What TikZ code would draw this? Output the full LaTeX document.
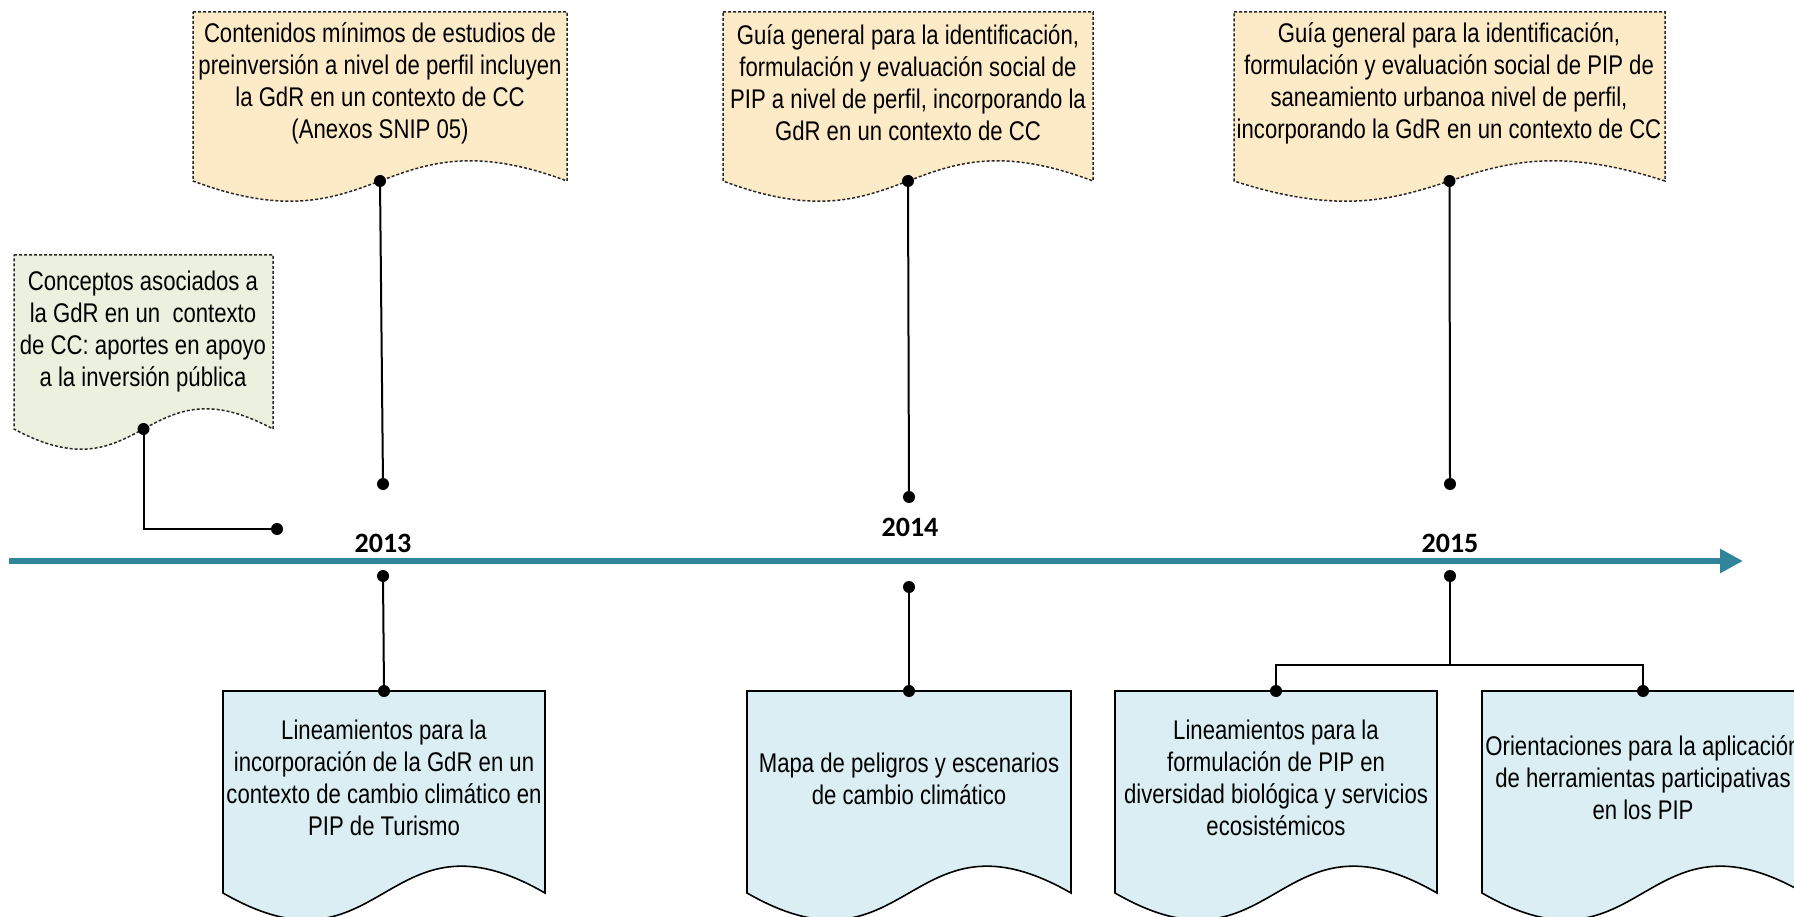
\documentclass[tikz,border=0pt]{standalone}
\usepackage{fontspec}
\setmainfont{Liberation Sans}[FakeStretch=0.82]
\newfontfamily\yearfont{Carlito}
\usetikzlibrary{arrows.meta,backgrounds}
\definecolor{tl}{RGB}{49,133,155}
\definecolor{yfill}{RGB}{253,235,200}
\definecolor{gfill}{RGB}{235,241,222}
\definecolor{bfill}{RGB}{218,238,243}
\definecolor{dline}{RGB}{40,40,40}
\tikzset{
  txt/.style={align=center, inner sep=0pt, font=\fontsize{27}{32}\selectfont},
  yeartxt/.style={inner sep=0pt, font=\yearfont\bfseries\fontsize{28}{30}\selectfont},
  dotnode/.style={circle, fill=black, inner sep=0pt, minimum size=12pt},
  conn/.style={line width=2pt, black},
  dottedbox/.style={draw=dline, line width=1.5pt, dash pattern=on 3pt off 2pt},
  solidbox/.style={draw=black, line width=1.6pt},
}
% #1 name, #2 left, #3 top, #4 right, #5 edge bottom, #6 wave control, #7 style
\newcommand\docbox[7]{%
  \path[#7] (#2,#3) -- (#4,#3) -- (#4,#5)
    .. controls ({(#2+#4)/2},{#5-#6}) and ({(#2+#4)/2},{#5+#6}) .. (#2,#5) -- cycle;
  \coordinate (#1-top) at ({(#2+#4)/2},#3);
  \coordinate (#1-wave) at ({(#2+#4)/2},#5);
}
\begin{document}
\begin{tikzpicture}[x=1pt,y=-1pt]
\useasboundingbox (0,0) rectangle (1794,917);
\clip (0,0) rectangle (1794,917);

% boxes
\docbox{g}{14}{255}{273}{429}{70}{dottedbox, fill=gfill}
\docbox{y1}{193}{12}{567}{181}{70}{dottedbox, fill=yfill}
\docbox{y2}{723}{12}{1093}{181}{70}{dottedbox, fill=yfill}
\docbox{y3}{1234}{12}{1665}{181}{70}{dottedbox, fill=yfill}
\docbox{b1}{223}{691}{545}{893}{93}{solidbox, fill=bfill}
\docbox{b2}{747}{691}{1071}{893}{93}{solidbox, fill=bfill}
\docbox{b3}{1115}{691}{1437}{893}{93}{solidbox, fill=bfill}
\docbox{b4}{1482}{691}{1804}{893}{93}{solidbox, fill=bfill}

% texts
\node[txt] (tg) at (143,332) {Conceptos asociados a\\la GdR en un\ \ contexto\\de CC: aportes en apoyo\\a la inversión pública};
\node[txt] (ty1) at (380,83) {Contenidos mínimos de estudios de\\preinversión a nivel de perfil incluyen\\la GdR en un contexto de CC\\(Anexos SNIP 05)};
\node[txt] (ty2) at (908,83) {Guía general para la identificación,\\formulación y evaluación social de\\PIP a nivel de perfil, incorporando la\\GdR en un contexto de CC};
\node[txt] (ty3) at (1449,83) {Guía general para la identificación,\\formulación y evaluación social de PIP de\\saneamiento urbanoa nivel de perfil,\\incorporando la GdR en un contexto de CC};
\node[txt] (tb1) at (384,778) {Lineamientos para la\\incorporación de la GdR en un\\contexto de cambio climático en\\PIP de Turismo};
\node[txt] (tb2) at (909,779) {Mapa de peligros y escenarios\\de cambio climático};
\node[txt] (tb3) at (1276,778) {Lineamientos para la\\formulación de PIP en\\diversidad biológica y servicios\\ecosistémicos};
\node[txt] (tb4) at (1643,778) {Orientaciones para la aplicación\\de herramientas participativas\\en los PIP};

% timeline
\draw[tl, line width=6pt, -{Triangle[length=23pt,width=23pt]}] (9,561) -- (1743,561);
\node[yeartxt] (yr13) at (383,543) {2013};
\node[yeartxt] (yr14) at (910,527) {2014};
\node[yeartxt] (yr15) at (1450,543) {2015};

% dots
\node[dotnode] (gw) at (g-wave) {};
\node[dotnode] (ge) at (277,529) {};
\node[dotnode] (y1w) at (y1-wave) {};
\node[dotnode] (a13) at (383,484) {};
\node[dotnode] (y2w) at (y2-wave) {};
\node[dotnode] (a14) at (909,497) {};
\node[dotnode] (y3w) at (y3-wave) {};
\node[dotnode] (a15) at (1450,484) {};
\node[dotnode] (u13) at (383,576) {};
\node[dotnode] (u14) at (909,587) {};
\node[dotnode] (u15) at (1450,576) {};
\node[dotnode] (b1t) at (b1-top) {};
\node[dotnode] (b2t) at (b2-top) {};
\node[dotnode] (b3t) at (b3-top) {};
\node[dotnode] (b4t) at (b4-top) {};
\coordinate (br) at (1450,665);

% connectors
\draw[conn] (gw.center) |- (ge.center);
\draw[conn] (y1w.center) -- (a13.center);
\draw[conn] (y2w.center) -- (a14.center);
\draw[conn] (y3w.center) -- (a15.center);
\draw[conn] (u13.center) -- (b1t.center);
\draw[conn] (u14.center) -- (b2t.center);
\draw[conn] (u15.center) -- (br);
\draw[conn] (b3t.center) |- (br) -| (b4t.center);
\end{tikzpicture}
\end{document}
